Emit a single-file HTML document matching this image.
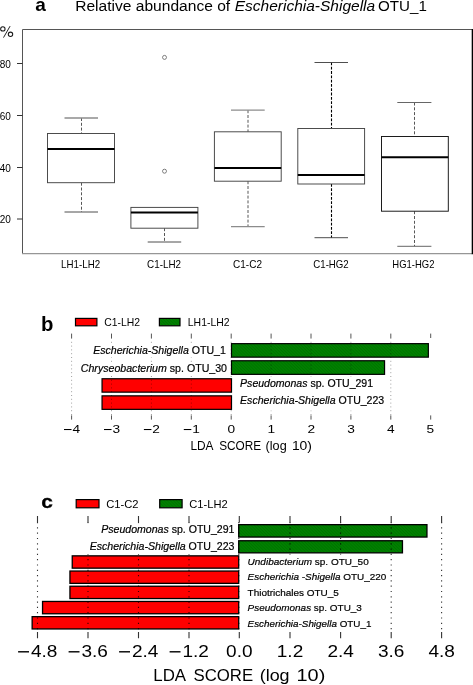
<!DOCTYPE html>
<html>
<head>
<meta charset="utf-8">
<title>LEfSe figure</title>
<style>
  html, body { margin: 0; padding: 0; background: #ffffff; }
  body { width: 473px; height: 685px; overflow: hidden; }
  svg { display: block; will-change: transform; }
  text { font-family: "Liberation Sans", sans-serif; fill: #000; }
  .it { font-style: italic; }
  .bx { fill: #fff; stroke: #444; stroke-width: 0.95; }
  .md { stroke: #000; stroke-width: 2; }
  .wh { stroke: #444; stroke-width: 0.9; stroke-dasharray: 3 1.8; fill: none; }
  .whd { stroke: #000; stroke-width: 1.1; stroke-dasharray: 2.8 1.5; fill: none; }
  .cp { stroke: #8c8c8c; stroke-width: 1.3; }
  .cpd { stroke: #3a3a3a; stroke-width: 0.9; }
  .ax { stroke: #555; stroke-width: 1; fill: none; }
  .tk { stroke: #333; stroke-width: 1; }
  .gd { stroke: #000; stroke-opacity: 0.42; stroke-width: 0.9; stroke-dasharray: 1 2.8; fill: none; }
  .gt { stroke: #555; stroke-width: 1; fill: none; }
  .gdc { stroke: #000; stroke-opacity: 0.8; stroke-width: 1.1; stroke-dasharray: 1.2 4.1; fill: none; }
  .gtc { stroke: #333; stroke-width: 1.1; fill: none; }
  .rbc { fill: #ff0000; stroke: #000; stroke-width: 1.3; }
  .gbc { fill: url(#hatch); stroke: #000; stroke-width: 1.3; }
  .rb { fill: #ff0000; stroke: #000; stroke-width: 1.2; }
  .gb { fill: url(#hatch); stroke: #000; stroke-width: 1.2; }
</style>
</head>
<body>
<svg width="473" height="685" viewBox="0 0 473 685">
  <defs>
    <pattern id="hatch" width="2.2" height="2.2" patternUnits="userSpaceOnUse" patternTransform="rotate(45)">
      <rect width="2.2" height="2.2" fill="#008300"/>
      <rect width="2.2" height="0.9" fill="#007200"/>
    </pattern>
  </defs>
  <rect x="0" y="0" width="473" height="685" fill="#ffffff"/>

  <!-- ================= PANEL A ================= -->
  <g id="panelA">
    <text x="35.2" y="11.3" font-size="19" font-weight="bold">a</text>
    <g font-size="15.4">
      <text x="75.2" y="11.4" textLength="155" lengthAdjust="spacingAndGlyphs">Relative abundance of</text>
      <text x="234.7" y="11.4" class="it" textLength="140.5" lengthAdjust="spacingAndGlyphs">Escherichia-Shigella</text>
      <text x="378.1" y="11.4" textLength="48.8" lengthAdjust="spacingAndGlyphs">OTU_1</text>
    </g>
    <g fill="none" stroke="#1a1a1a" stroke-width="1.05">
      <circle cx="2.85" cy="28.9" r="2.2"/>
      <circle cx="10.5" cy="34.35" r="2.2"/>
      <line x1="10.1" y1="26.1" x2="3.5" y2="37.6" stroke-width="0.95"/>
    </g>

    <!-- frame -->
    <path class="ax" d="M22.5 253.5 V29.5 H472"/>
    <line x1="22" y1="253.6" x2="472" y2="253.6" stroke="#969696" stroke-width="1.4"/>
    <line x1="472.4" y1="29" x2="472.4" y2="254.2" stroke="#000" stroke-width="1.4"/>

    <!-- y ticks -->
    <g class="tk">
      <line x1="17" y1="63.5" x2="22.5" y2="63.5"/>
      <line x1="17" y1="115.5" x2="22.5" y2="115.5"/>
      <line x1="17" y1="167.5" x2="22.5" y2="167.5"/>
      <line x1="17" y1="219" x2="22.5" y2="219"/>
    </g>
    <g font-size="10" text-anchor="end">
      <text x="10.9" y="67.7">80</text>
      <text x="10.9" y="119.7">60</text>
      <text x="10.9" y="171.5">40</text>
      <text x="10.9" y="223.1">20</text>
    </g>

    <!-- LH1-LH2 -->
    <line class="wh" x1="81.5" y1="118" x2="81.5" y2="133.5"/>
    <line class="wh" x1="81.5" y1="182.7" x2="81.5" y2="212"/>
    <line class="cp" x1="64.5" y1="118" x2="98" y2="118"/>
    <line class="cpd" x1="64.5" y1="212" x2="98" y2="212"/>
    <rect class="bx" x="47.5" y="133.5" width="67" height="49.2"/>
    <line class="md" x1="47.5" y1="148.9" x2="114.5" y2="148.9"/>

    <!-- C1-LH2 -->
    <line class="wh" x1="164.5" y1="228.2" x2="164.5" y2="242"/>
    <line class="cpd" x1="147.7" y1="242" x2="181.2" y2="242"/>
    <rect class="bx" x="130.9" y="207.4" width="67" height="20.8"/>
    <line class="md" x1="130.9" y1="212.6" x2="197.9" y2="212.6"/>
    <circle cx="164.5" cy="57.4" r="2" fill="#fff" stroke="#333" stroke-width="0.6"/>
    <circle cx="164.5" cy="171.2" r="2" fill="#fff" stroke="#333" stroke-width="0.6"/>

    <!-- C1-C2 -->
    <line class="wh" x1="248" y1="110.2" x2="248" y2="131.8"/>
    <line class="wh" x1="248" y1="181.2" x2="248" y2="226.7"/>
    <line class="cp" x1="231" y1="110.2" x2="264.7" y2="110.2"/>
    <line class="cp" x1="231" y1="226.7" x2="264.7" y2="226.7"/>
    <rect class="bx" x="214.4" y="131.8" width="66.8" height="49.4"/>
    <line class="md" x1="214.4" y1="168" x2="281.2" y2="168"/>

    <!-- C1-HG2 -->
    <line class="whd" x1="331.5" y1="62.5" x2="331.5" y2="128.5"/>
    <line class="whd" x1="331.5" y1="184" x2="331.5" y2="237.7"/>
    <line class="cpd" x1="314.5" y1="62.5" x2="348" y2="62.5"/>
    <line class="cpd" x1="314.5" y1="237.7" x2="348" y2="237.7"/>
    <rect class="bx" x="297.8" y="128.5" width="66.8" height="55.5"/>
    <line class="md" x1="297.8" y1="174.9" x2="364.6" y2="174.9"/>

    <!-- HG1-HG2 -->
    <line class="wh" x1="414.5" y1="102.5" x2="414.5" y2="136.5"/>
    <line class="wh" x1="414.5" y1="211.2" x2="414.5" y2="246.2"/>
    <line x1="397.3" y1="102.5" x2="431.4" y2="102.5" stroke="#666" stroke-width="1"/>
    <line x1="397.3" y1="246.3" x2="431.4" y2="246.3" stroke="#666" stroke-width="1"/>
    <rect class="bx" x="381.5" y="136.5" width="66.8" height="74.7" style="stroke:#111"/>
    <line class="md" x1="381.5" y1="157.2" x2="448.3" y2="157.2"/>

    <!-- x labels -->
    <g font-size="11" text-anchor="middle" fill="#222">
      <text x="80.6" y="267.9" textLength="39" lengthAdjust="spacingAndGlyphs">LH1-LH2</text>
      <text x="164.1" y="267.9" textLength="34" lengthAdjust="spacingAndGlyphs">C1-LH2</text>
      <text x="247.5" y="267.9" textLength="28.9" lengthAdjust="spacingAndGlyphs">C1-C2</text>
      <text x="331" y="267.9" textLength="35.4" lengthAdjust="spacingAndGlyphs">C1-HG2</text>
      <text x="413.4" y="267.9" textLength="42.1" lengthAdjust="spacingAndGlyphs">HG1-HG2</text>
    </g>
  </g>

  <!-- ================= PANEL B ================= -->
  <g id="panelB">
    <text x="41" y="330.9" font-size="20.3" font-weight="bold">b</text>
    <!-- legend -->
    <rect class="rb" x="75.5" y="318.4" width="21.4" height="7.4"/>
    <text x="104.2" y="326" font-size="11" textLength="35.8" lengthAdjust="spacingAndGlyphs">C1-LH2</text>
    <rect class="gb" x="159.4" y="318.4" width="20.6" height="7.4"/>
    <text x="187.8" y="326" font-size="11" textLength="41.8" lengthAdjust="spacingAndGlyphs">LH1-LH2</text>

    <!-- bars -->
    <rect class="gb" x="231.5" y="343.65" width="196.85" height="13.5"/>
    <rect class="gb" x="231.5" y="360.75" width="153.05" height="13.6"/>
    <rect class="rb" x="102.05" y="378.75" width="129.45" height="13.4"/>
    <rect class="rb" x="102.05" y="395.85" width="129.45" height="13.5"/>

    <!-- grid -->
    <g class="gd">
      <line x1="71.6" y1="338" x2="71.6" y2="416"/>
      <line x1="111.5" y1="338" x2="111.5" y2="416"/>
      <line x1="151.4" y1="338" x2="151.4" y2="416"/>
      <line x1="191.3" y1="338" x2="191.3" y2="416"/>
      <line x1="231.2" y1="338" x2="231.2" y2="416"/>
      <line x1="271.1" y1="338" x2="271.1" y2="416"/>
      <line x1="311" y1="338" x2="311" y2="416"/>
      <line x1="350.9" y1="338" x2="350.9" y2="416"/>
      <line x1="390.8" y1="338" x2="390.8" y2="416"/>
    </g>
    <g class="gt">
      <path d="M71.6 333.6v4.4M111.5 333.6v4.4M151.4 333.6v4.4M191.3 333.6v4.4M231.2 333.6v4.4M271.1 333.6v4.4M311 333.6v4.4M350.9 333.6v4.4M390.8 333.6v4.4M430.7 333.6v4.4"/>
      <path d="M71.6 415.4v4.2M111.5 415.4v4.2M151.4 415.4v4.2M191.3 415.4v4.2M231.2 415.4v4.2M271.1 415.4v4.2M311 415.4v4.2M350.9 415.4v4.2M390.8 415.4v4.2M430.7 415.4v4.2"/>
    </g>

    <!-- bar labels -->
    <g fill="#fff">
      <rect x="91" y="345" width="138" height="12.5"/>
      <rect x="79" y="362" width="150" height="13.5"/>
      <rect x="234" y="376.5" width="152" height="34"/>
    </g>
    <g font-size="10.6" stroke="#000" stroke-width="0.2">
      <text x="93.2" y="353.7" textLength="132.6" lengthAdjust="spacingAndGlyphs"><tspan class="it">Escherichia-Shigella</tspan> OTU_1</text>
      <text x="80.8" y="371.6" textLength="146.2" lengthAdjust="spacingAndGlyphs"><tspan class="it">Chryseobacterium</tspan> sp. OTU_30</text>
      <text x="240.1" y="386.8" textLength="133" lengthAdjust="spacingAndGlyphs"><tspan class="it">Pseudomonas</tspan> sp. OTU_291</text>
      <text x="240.1" y="403.8" textLength="144.1" lengthAdjust="spacingAndGlyphs"><tspan class="it">Escherichia-Shigella</tspan> OTU_223</text>
    </g>

    <!-- tick labels -->
    <g font-size="11.8" fill="#000">
      <rect x="64.0" y="429" width="7.5" height="1.05"/>
      <text transform="translate(72.4 433.2) scale(1.16 1)">4</text>
      <rect x="104.0" y="429" width="7.5" height="1.05"/>
      <text transform="translate(112.4 433.2) scale(1.16 1)">3</text>
      <rect x="143.9" y="429" width="7.5" height="1.05"/>
      <text transform="translate(152.3 433.2) scale(1.16 1)">2</text>
      <rect x="183.8" y="429" width="7.5" height="1.05"/>
      <text transform="translate(192.2 433.2) scale(1.16 1)">1</text>
      <text transform="translate(231.3 433.2) scale(1.16 1)" text-anchor="middle">0</text>
      <text transform="translate(271.2 433.2) scale(1.16 1)" text-anchor="middle">1</text>
      <text transform="translate(311.2 433.2) scale(1.16 1)" text-anchor="middle">2</text>
      <text transform="translate(351.0 433.2) scale(1.16 1)" text-anchor="middle">3</text>
      <text transform="translate(390.8 433.2) scale(1.16 1)" text-anchor="middle">4</text>
      <text transform="translate(430.4 433.2) scale(1.16 1)" text-anchor="middle">5</text>
    </g>
    <g font-size="12.3">
      <text x="190.4" y="450.3" textLength="23.1" lengthAdjust="spacingAndGlyphs">LDA</text>
      <text x="219.2" y="450.3" textLength="42.0" lengthAdjust="spacingAndGlyphs">SCORE</text>
      <text x="265.6" y="450.3" textLength="21.1" lengthAdjust="spacingAndGlyphs">(log</text>
      <text x="291.9" y="450.3" textLength="20.1" lengthAdjust="spacingAndGlyphs">10)</text>
    </g>
  </g>

  <!-- ================= PANEL C ================= -->
  <g id="panelC">
    <text transform="translate(41.2 507.7) scale(1.09 1)" font-size="19.2" font-weight="bold" stroke="#000" stroke-width="0.3">c</text>
    <!-- legend -->
    <rect class="rb" x="76.2" y="499.6" width="22.8" height="8.2"/>
    <text x="106.2" y="508" font-size="11.6" textLength="32.4" lengthAdjust="spacingAndGlyphs">C1-C2</text>
    <rect class="gb" x="159.7" y="499.6" width="22.4" height="8.2"/>
    <text x="189.3" y="508" font-size="11.6" textLength="38.4" lengthAdjust="spacingAndGlyphs">C1-LH2</text>

    <!-- bars -->
    <rect class="gbc" x="238.7" y="524.65" width="188.25" height="12.4"/>
    <rect class="gbc" x="238.7" y="540.75" width="163.75" height="12.1"/>
    <rect class="rbc" x="72.25" y="555.85" width="166.45" height="12.3"/>
    <rect class="rbc" x="69.95" y="571.05" width="168.75" height="12.3"/>
    <rect class="rbc" x="69.95" y="586.25" width="168.75" height="12.3"/>
    <rect class="rbc" x="42.55" y="601.45" width="196.15" height="12.3"/>
    <rect class="rbc" x="32.15" y="616.65" width="206.55" height="12.3"/>

    <!-- grid -->
    <g class="gdc">
      <line x1="37.5" y1="522" x2="37.5" y2="632"/>
      <line x1="88" y1="522" x2="88" y2="632"/>
      <line x1="138.5" y1="522" x2="138.5" y2="632"/>
      <line x1="189" y1="522" x2="189" y2="632"/>
      <line x1="238.8" y1="522" x2="238.8" y2="632"/>
      <line x1="290" y1="522" x2="290" y2="632"/>
      <line x1="340.6" y1="522" x2="340.6" y2="632"/>
      <line x1="391.2" y1="522" x2="391.2" y2="632"/>
      <line x1="441.6" y1="522" x2="441.6" y2="632"/>
    </g>
    <g class="gtc">
      <path d="M37.5 516v6.5M88 516v6.5M138.5 516v6.5M189 516v6.5M239.3 516v6.5M290 516v6.5M340.6 516v6.5M391.2 516v6.5M441.6 516v6.5"/>
      <path d="M37.5 632v6.3M88 632v6.3M138.5 632v6.3M189 632v6.3M239.3 632v6.3M290 632v6.3M340.6 632v6.3M391.2 632v6.3M441.6 632v6.3"/>
    </g>

    <!-- bar labels -->
    <g fill="#fff">
      <rect x="60" y="523.5" width="176" height="30.8"/>
      <rect x="242" y="554.6" width="146" height="76.6"/>
    </g>
    <g font-size="10.6" stroke="#000" stroke-width="0.2">
      <text x="101.2" y="532.8" textLength="133.3" lengthAdjust="spacingAndGlyphs"><tspan class="it">Pseudomonas</tspan> sp. OTU_291</text>
      <text x="89.7" y="549.6" textLength="144.8" lengthAdjust="spacingAndGlyphs"><tspan class="it">Escherichia-Shigella</tspan> OTU_223</text>
    </g>
    <g font-size="9.95" stroke="#000" stroke-width="0.2">
      <text x="247.6" y="564.7" textLength="121.1" lengthAdjust="spacingAndGlyphs"><tspan class="it">Undibacterium</tspan> sp. OTU_50</text>
      <text x="247.6" y="580.3" textLength="138.7" lengthAdjust="spacingAndGlyphs"><tspan class="it">Escherichia -Shigella</tspan> OTU_220</text>
      <text x="247.6" y="596.2" textLength="91.3" lengthAdjust="spacingAndGlyphs">Thiotrichales OTU_5</text>
      <text x="247.6" y="611.4" textLength="114.3" lengthAdjust="spacingAndGlyphs"><tspan class="it">Pseudomonas</tspan> sp. OTU_3</text>
      <text x="247.6" y="627" textLength="123.8" lengthAdjust="spacingAndGlyphs"><tspan class="it">Escherichia-Shigella</tspan> OTU_1</text>
    </g>

    <!-- tick labels -->
    <g font-size="16.2" fill="#000">
      <rect x="18.1" y="651.1" width="10.9" height="1.4"/>
      <text transform="translate(31.0 656.8) scale(1.175 1)">4.8</text>
      <rect x="68.6" y="651.1" width="10.9" height="1.4"/>
      <text transform="translate(81.5 656.8) scale(1.175 1)">3.6</text>
      <rect x="119.1" y="651.1" width="10.9" height="1.4"/>
      <text transform="translate(132.0 656.8) scale(1.175 1)">2.4</text>
      <rect x="169.6" y="651.1" width="10.9" height="1.4"/>
      <text transform="translate(182.5 656.8) scale(1.175 1)">1.2</text>
      <text transform="translate(239.3 656.8) scale(1.175 1)" text-anchor="middle">0.0</text>
      <text transform="translate(290.0 656.8) scale(1.175 1)" text-anchor="middle">1.2</text>
      <text transform="translate(340.6 656.8) scale(1.175 1)" text-anchor="middle">2.4</text>
      <text transform="translate(391.2 656.8) scale(1.175 1)" text-anchor="middle">3.6</text>
      <text transform="translate(441.6 656.8) scale(1.175 1)" text-anchor="middle">4.8</text>
    </g>
    <g font-size="17.3">
      <text x="153.3" y="680.8" textLength="32.8" lengthAdjust="spacingAndGlyphs">LDA</text>
      <text x="193.5" y="680.8" textLength="59.7" lengthAdjust="spacingAndGlyphs">SCORE</text>
      <text x="259.7" y="680.8" textLength="29.9" lengthAdjust="spacingAndGlyphs">(log</text>
      <text x="296.5" y="680.8" textLength="28.8" lengthAdjust="spacingAndGlyphs">10)</text>
    </g>
  </g>
</svg>
</body>
</html>
